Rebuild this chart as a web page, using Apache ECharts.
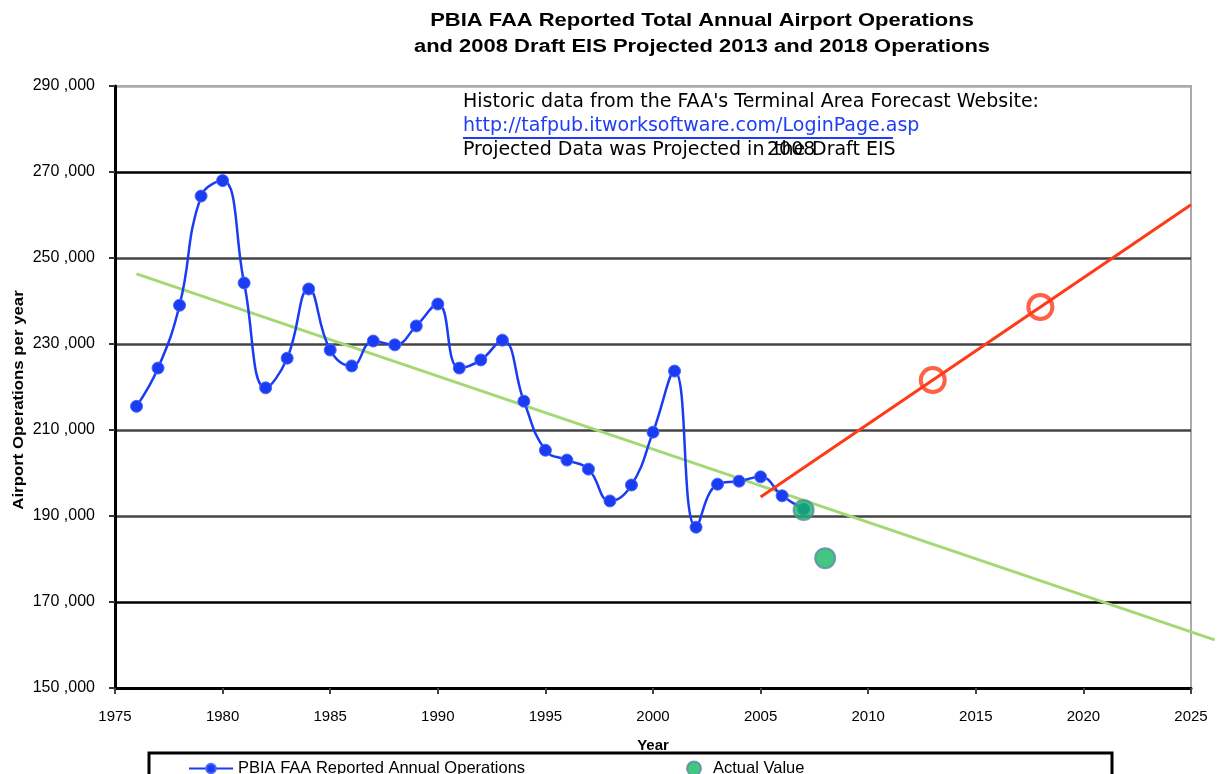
<!DOCTYPE html>
<html>
<head>
<meta charset="utf-8">
<script src="https://cdn.jsdelivr.net/npm/echarts@6/dist/echarts.min.js"></script>
<style>
  html, body { margin: 0; padding: 0; background: #fff; }
  #chart { width: 1217px; height: 774px; }
</style>
</head>
<body>
<div id="chart"></div>
<script>
// 历年 FAA 报告的运营量
const years = [1976, 1977, 1978, 1979, 1980, 1981, 1982, 1983, 1984, 1985, 1986, 1987, 1988, 1989, 1990,
  1991, 1992, 1993, 1994, 1995, 1996, 1997, 1998, 1999, 2000, 2001, 2002, 2003, 2004, 2005, 2006, 2007]
const operations = [215500, 224400, 239000, 264400, 268000, 244200, 219800, 226700, 242800, 228600, 224900, 230700,
  229800, 234200, 239300, 224400, 226300, 230900, 216700, 205300, 203000, 200900, 193500, 197200, 209500,
  223700, 187400, 197400, 198100, 199100, 194700, 191600]

// 实际值
const actualYears = [2007, 2008]
const actualValues = [191400, 180200]

// EIS 预测值
const projYears = [2013, 2018]
const projValues = [221600, 238600]

// 预测趋势线 (红)
const projTrendYears = [2005, 2025]
const projTrendValues = [194400, 262400]

// 历史趋势线 (绿), 画出了右边框
const histTrendYears = [1976, 2026.1]
const histTrendValues = [246300, 161200]

const yTicks = [150000, 170000, 190000, 210000, 230000, 250000, 270000, 290000]

const pair = (xs, ys) => xs.map((x, i) => [x, ys[i]])

const chart = echarts.init(document.getElementById('chart'))

const blue = '#1a3cf2'
const font = 'Liberation Sans, Arial, sans-serif'
const noteFont = '19px "DejaVu Sans"'

// 每年对应的像素: 1076px / 50 年
const pxPerYear = (1217 - 115 - 26) / 50

const option = {
  backgroundColor: '#fff',
  animation: false,
  grid: [
    { left: 115, right: 26, top: 86, bottom: 86, show: true, borderColor: '#aaa', borderWidth: 2 },
    // 第二个网格只给绿线用, 让它可以伸出右边框
    { left: 115, right: 0, top: 86, bottom: 86 }
  ],
  legend: [
    {
      data: ['PBIA FAA Reported Annual Operations'],
      left: 183, top: 755,
      itemWidth: 44, itemHeight: 12,
      textStyle: { fontFamily: font, fontSize: 16.5, color: '#000' }
    },
    {
      data: ['Actual Value'],
      left: 681, top: 755,
      itemWidth: 14, itemHeight: 14,
      textStyle: { fontFamily: font, fontSize: 16.5, color: '#000', padding: [0, 0, 0, 7] }
    }
  ],
  xAxis: [
    {
      type: 'value',
      gridIndex: 0,
      min: 1975, max: 2025, interval: 5,
      name: 'Year',
      nameLocation: 'middle',
      nameGap: 50,
      nameTextStyle: { fontFamily: font, fontSize: 15, fontWeight: 'bold', color: '#000' },
      axisLine: { show: true, onZero: false, lineStyle: { color: '#000', width: 3 } },
      axisTick: { show: true, length: 6, lineStyle: { color: '#444', width: 2 } },
      axisLabel: { fontFamily: font, fontSize: 15, color: '#000', margin: 21, formatter: v => String(v) },
      splitLine: { show: false }
    },
    {
      type: 'value',
      gridIndex: 1,
      min: 1975, max: 1975 + (1217 - 115) / pxPerYear,
      show: false
    }
  ],
  yAxis: [
    {
      type: 'value',
      gridIndex: 0,
      min: 150000, max: 290000, interval: 20000,
      axisLine: { show: true, lineStyle: { color: '#000', width: 3 } },
      axisTick: { show: true, length: 6, lineStyle: { color: '#333', width: 2 } },
      axisLabel: {
        fontFamily: font, fontSize: 16, color: '#000', margin: 20,
        formatter: v => yTicks.includes(v) ? Math.floor(v / 1000) + ' ,000' : ''
      },
      splitLine: {
        show: true,
        lineStyle: { color: ['#000', '#000', '#444', '#444', '#444', '#444', '#000', '#aaa'], width: 2.5 }
      }
    },
    {
      type: 'value',
      gridIndex: 1,
      min: 150000, max: 290000,
      show: false
    }
  ],
  graphic: [
    {
      type: 'text', x: 702, y: 8, scaleX: 1.22, z: 60,
      style: {
        text: 'PBIA FAA Reported Total Annual Airport Operations\nand 2008 Draft EIS Projected 2013 and 2018 Operations',
        font: 'bold 18px Liberation Sans', fill: '#000', textAlign: 'center', lineHeight: 26
      }
    },
    {
      type: 'text', x: 19, y: 400, rotation: Math.PI / 2, scaleX: 1.12, z: 60,
      style: {
        text: 'Airport Operations per year',
        font: 'bold 15px Liberation Sans', fill: '#000', textAlign: 'center', textVerticalAlign: 'middle'
      }
    },
    {
      type: 'rect', z: 50,
      shape: { x: 457, y: 89, width: 600, height: 78 },
      style: { fill: '#fff' }
    },
    {
      type: 'text', left: 463, top: 93, z: 60,
      style: { text: "Historic data from the FAA's Terminal Area Forecast Website:", font: noteFont, fill: '#000' }
    },
    {
      type: 'text', left: 463, top: 117, z: 60,
      style: { text: 'http://tafpub.itworksoftware.com/LoginPage.asp', font: noteFont, fill: '#1f3df5' }
    },
    {
      type: 'line', z: 60,
      shape: { x1: 463, y1: 138, x2: 893, y2: 138 },
      style: { stroke: '#1f3df5', lineWidth: 2 }
    },
    {
      type: 'text', left: 463, top: 141, z: 60,
      style: { text: 'Projected Data was Projected in', font: noteFont, fill: '#000' }
    },
    {
      type: 'text', left: 774, top: 141, z: 60,
      style: { text: 'the', font: noteFont, fill: '#000' }
    },
    {
      type: 'text', left: 767, top: 141, z: 61,
      style: { text: '2008', font: noteFont, fill: '#000' }
    },
    {
      type: 'text', left: 812, top: 141, z: 60,
      style: { text: 'Draft EIS', font: noteFont, fill: '#000' }
    },
    {
      type: 'rect', z: 40,
      shape: { x: 149, y: 753, width: 963, height: 40 },
      style: { fill: 'none', stroke: '#000', lineWidth: 3 }
    }
  ],
  series: [
    {
      name: 'Historic trend',
      type: 'line',
      xAxisIndex: 1,
      yAxisIndex: 1,
      data: pair(histTrendYears, histTrendValues),
      showSymbol: false,
      lineStyle: { color: '#a3d873', width: 3 },
      z: 3
    },
    {
      name: 'PBIA FAA Reported Annual Operations',
      type: 'line',
      data: pair(years, operations),
      smooth: 0.45,
      symbol: 'circle',
      symbolSize: 12,
      lineStyle: { color: blue, width: 2.5 },
      itemStyle: { color: blue, borderColor: '#4a66ff', borderWidth: 1 },
      z: 4
    },
    {
      name: 'Projection trend',
      type: 'line',
      data: pair(projTrendYears, projTrendValues),
      showSymbol: false,
      lineStyle: { color: '#ff3a17', width: 3 },
      z: 5
    },
    {
      name: 'Projected',
      type: 'scatter',
      data: pair(projYears, projValues),
      symbol: 'circle',
      symbolSize: 24,
      itemStyle: { color: 'rgba(255,255,255,0)', borderColor: '#ff3a17', borderWidth: 4 },
      z: 6
    },
    {
      name: 'Actual Value',
      type: 'scatter',
      data: pair(actualYears, actualValues),
      symbol: 'circle',
      symbolSize: 20,
      itemStyle: { color: '#14b862', borderColor: '#5a88a8', borderWidth: 2 },
      z: 7
    }
  ]
}

chart.setOption(option)
</script>
</body>
</html>
